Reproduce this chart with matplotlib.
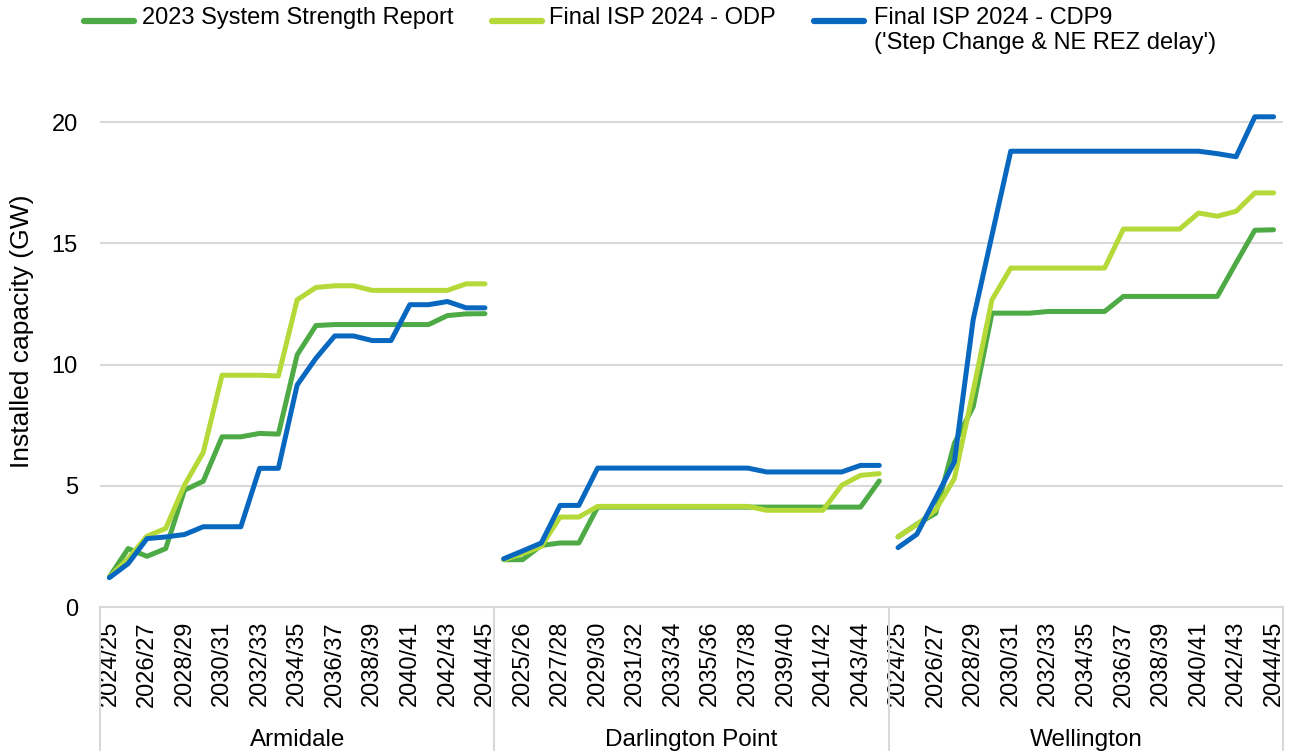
import matplotlib
matplotlib.use("Agg")
import matplotlib.pyplot as plt
from matplotlib.lines import Line2D
import matplotlib.transforms as mtransforms
import numpy as np

plt.rcParams['font.family'] = ['Liberation Sans', 'DejaVu Sans']

years = ["2024/25", "2025/26", "2026/27", "2027/28", "2028/29", "2029/30", "2030/31",
         "2031/32", "2032/33", "2033/34", "2034/35", "2035/36", "2036/37", "2037/38",
         "2038/39", "2039/40", "2040/41", "2041/42", "2042/43", "2043/44", "2044/45"]
regions = ["Armidale", "Darlington Point", "Wellington"]
series_names = ["2023 System Strength Report", "Final ISP 2024 - ODP",
                "Final ISP 2024 - CDP9\n('Step Change & NE REZ delay')"]
colors = ["#4DAA45", "#B4D939", "#0868C0"]

# Installed capacity (GW) per region
ssr_armidale = [1.24, 2.41, 2.09, 2.41, 4.82, 5.19, 7.02, 7.02, 7.16, 7.13, 10.4,
                11.61, 11.65, 11.65, 11.65, 11.65, 11.65, 11.65, 12.02, 12.09, 12.1]
odp_armidale = [1.24, 2.0, 2.92, 3.24, 5.03, 6.38, 9.56, 9.56, 9.56, 9.53, 12.67,
                13.18, 13.25, 13.25, 13.06, 13.06, 13.06, 13.06, 13.06, 13.33, 13.33]
cdp9_armidale = [1.21, 1.79, 2.82, 2.89, 2.99, 3.31, 3.31, 3.31, 5.72, 5.72, 9.16,
                 10.26, 11.18, 11.18, 10.99, 10.99, 12.47, 12.47, 12.6, 12.34, 12.34]

ssr_darlington = [1.95, 1.95, 2.54, 2.64, 2.64, 4.12, 4.12, 4.12, 4.12, 4.12, 4.12,
                  4.12, 4.12, 4.12, 4.12, 4.12, 4.12, 4.12, 4.12, 4.12, 5.2]
odp_darlington = [1.95, 2.2, 2.5, 3.71, 3.71, 4.15, 4.15, 4.15, 4.15, 4.15, 4.15,
                  4.15, 4.15, 4.15, 3.99, 3.99, 3.99, 3.99, 5.02, 5.43, 5.5]
cdp9_darlington = [1.99, 2.31, 2.64, 4.19, 4.19, 5.73, 5.73, 5.73, 5.73, 5.73, 5.73,
                   5.73, 5.73, 5.73, 5.57, 5.57, 5.57, 5.57, 5.57, 5.84, 5.84]

ssr_wellington = [2.89, 3.42, 3.86, 6.75, 8.26, 12.12, 12.12, 12.12, 12.19, 12.19, 12.19,
                  12.19, 12.81, 12.81, 12.81, 12.81, 12.81, 12.81, 14.19, 15.54, 15.56]
odp_wellington = [2.9, 3.4, 4.0, 5.3, 8.9, 12.67, 13.98, 13.98, 13.98, 13.98, 13.98,
                  13.98, 15.59, 15.59, 15.59, 15.59, 16.25, 16.12, 16.32, 17.08, 17.08]
cdp9_wellington = [2.45, 3.0, 4.48, 5.99, 11.85, 15.33, 18.8, 18.8, 18.8, 18.8, 18.8,
                   18.8, 18.8, 18.8, 18.8, 18.8, 18.8, 18.7, 18.57, 20.22, 20.22]

data = {
    "Armidale": [ssr_armidale, odp_armidale, cdp9_armidale],
    "Darlington Point": [ssr_darlington, odp_darlington, cdp9_darlington],
    "Wellington": [ssr_wellington, odp_wellington, cdp9_wellington],
}

W, H = 1293, 751
fig = plt.figure(figsize=(W / 100, H / 100), dpi=100)
ax_left, ax_right = 100, 1283
y0_px, ytop_px = 607, 110
ax = fig.add_axes([ax_left / W, (H - y0_px) / H, (ax_right - ax_left) / W, (y0_px - ytop_px) / H])

n = len(years)
for g, reg in enumerate(regions):
    x = np.arange(n) + g * n
    for s in range(3):
        ax.plot(x, data[reg][s], color=colors[s], lw=3.6, solid_capstyle='round',
                solid_joinstyle='round', clip_on=False, zorder=3)

ax.set_xlim(-0.5, 3 * n - 0.5)
ax.set_ylim(0, 20.5)
ax.set_yticks([0, 5, 10, 15, 20])
ax.set_yticklabels(["0", "5", "10", "15", "20"], fontsize=17)
ax.grid(axis='y', color='#D9D9D9', lw=1.5, zorder=0)
ax.set_axisbelow(True)
for sp in ['top', 'right', 'left']:
    ax.spines[sp].set_visible(False)
ax.spines['bottom'].set_color('#D9D9D9')
ax.spines['bottom'].set_linewidth(1.5)
ax.tick_params(axis='y', length=0, pad=16)

tick_pos = []
tick_lab = []
for g in range(3):
    for i in range(n):
        gi = g * n + i
        if gi % 2 == 0:
            tick_pos.append(gi)
            tick_lab.append(years[i])
ax.set_xticks(tick_pos)
ax.set_xticklabels(tick_lab, rotation=90, fontsize=17)
ax.tick_params(axis='x', length=0, pad=10)

# y-axis title placed at its reference location
fig.text(22 / W, 1 - 331 / H, "Installed capacity (GW)", rotation=90, ha='center',
         va='center', fontsize=19)

trans = mtransforms.blended_transform_factory(ax.transData, ax.transAxes)
bottom_ax = -(H - y0_px) / (y0_px - ytop_px)
for b in [-0.5, n - 0.5, 2 * n - 0.5, 3 * n - 0.5]:
    ax.add_line(Line2D([b, b], [0, bottom_ax], transform=trans, color='#D9D9D9',
                       lw=1.5, clip_on=False))
label_y = -(740 - y0_px) / (y0_px - ytop_px)
for g, reg in enumerate(regions):
    ax.text(g * n + (n - 1) / 2, label_y, reg, transform=trans, ha='center',
            va='center', fontsize=17.5)

# legend
leg_items = [(84, 142), (492, 549), (814, 874)]
for (hx, tx), name, c in zip(leg_items, series_names, colors):
    fig.add_artist(Line2D([hx / W, (hx + 50) / W], [1 - 21 / H, 1 - 21 / H],
                          transform=fig.transFigure, color=c, lw=4.5,
                          solid_capstyle='round'))
    fig.text(tx / W, 1 - 7 / H, name, ha='left', va='top', fontsize=17,
             linespacing=1.2)

fig.savefig("out.png", dpi=100)
